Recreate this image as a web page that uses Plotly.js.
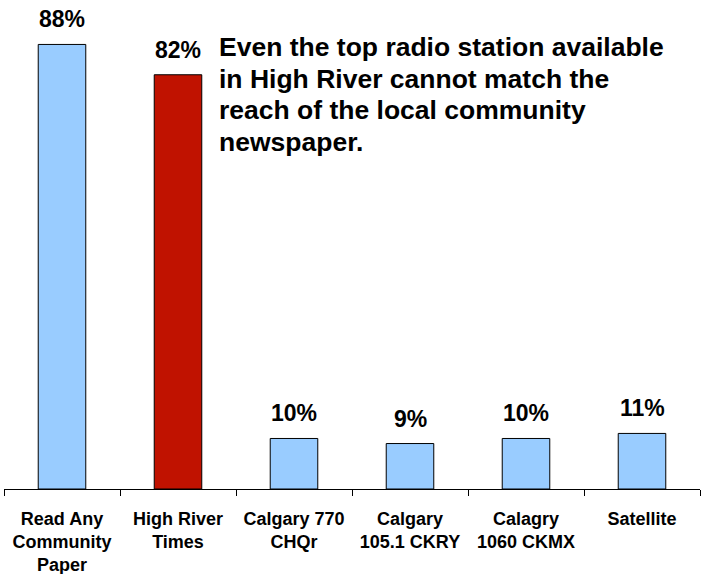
<!DOCTYPE html>
<html>
<head>
<meta charset="utf-8">
<script src="https://cdn.plot.ly/plotly-3.0.1.min.js"></script>
<style>html,body{margin:0;padding:0;background:#fff;}#chart{width:706px;height:574px;}</style>
</head>
<body>
<div id="chart"></div>
<script>
const categories = ["Read Any<br>Community<br>Paper", "High River<br>Times", "Calgary 770<br>CHQr", "Calgary<br>105.1 CKRY", "Calagry<br>1060 CKMX", "Satellite"];
const values = [88, 82, 10, 9, 10, 11];
const barColors = ["#99CCFF", "#C01200", "#99CCFF", "#99CCFF", "#99CCFF", "#99CCFF"];
const valueLabels = values.map(v => v + "%");
const noteLines = ["Even the top radio station available", "in High River cannot match the", "reach of the local community", "newspaper."];

const FONT = "Liberation Sans, Arial, sans-serif";

const trace = {
  type: "bar",
  x: categories,
  y: values,
  width: 0.41,
  marker: {color: barColors, line: {color: "#000", width: 1}},
  hoverinfo: "none"
};

const annotations = categories.map((c, i) => ({
  x: c, y: values[i], xref: "x", yref: "y",
  text: "<b>" + valueLabels[i] + "</b>",
  showarrow: false, yanchor: "bottom", yshift: 10,
  font: {family: FONT, size: 23, color: "#000"}
}));
// note text, one annotation per line (pixel line pitch ~31.7px in a 489px plot)
const lineTop = 47, linePitch = 31.7, plotH = 489;
noteLines.forEach((t, k) => {
  annotations.push({
    xref: "paper", yref: "paper", x: 0.306, y: (plotH - (lineTop + k * linePitch)) / plotH,
    xanchor: "left", yanchor: "middle", align: "left",
    text: "<b>" + t + "</b>", showarrow: false,
    font: {family: FONT, size: 26.5, color: "#000"}
  });
});

const layout = {
  width: 706, height: 574,
  margin: {l: 4, r: 6, t: 0, b: 85},
  paper_bgcolor: "#fff", plot_bgcolor: "#fff",
  showlegend: false,
  bargap: 0.59,
  xaxis: {
    type: "category", showline: true, linecolor: "#000", linewidth: 1,
    ticks: "outside", tickson: "boundaries", ticklen: 6, tickcolor: "#000",
    showgrid: false, zeroline: false,
    tickfont: {family: FONT, size: 18, color: "#000"},
    ticklabelstandoff: 13,
    fixedrange: true
  },
  yaxis: {range: [0, 96.8], visible: false, showgrid: false, zeroline: false, fixedrange: true},
  annotations: annotations
};
layout.xaxis.tickvals = categories;
layout.xaxis.ticktext = categories.map(c => "<b>" + c + "</b>");

Plotly.newPlot("chart", [trace], layout, {displayModeBar: false, staticPlot: true});
</script>
</body>
</html>
